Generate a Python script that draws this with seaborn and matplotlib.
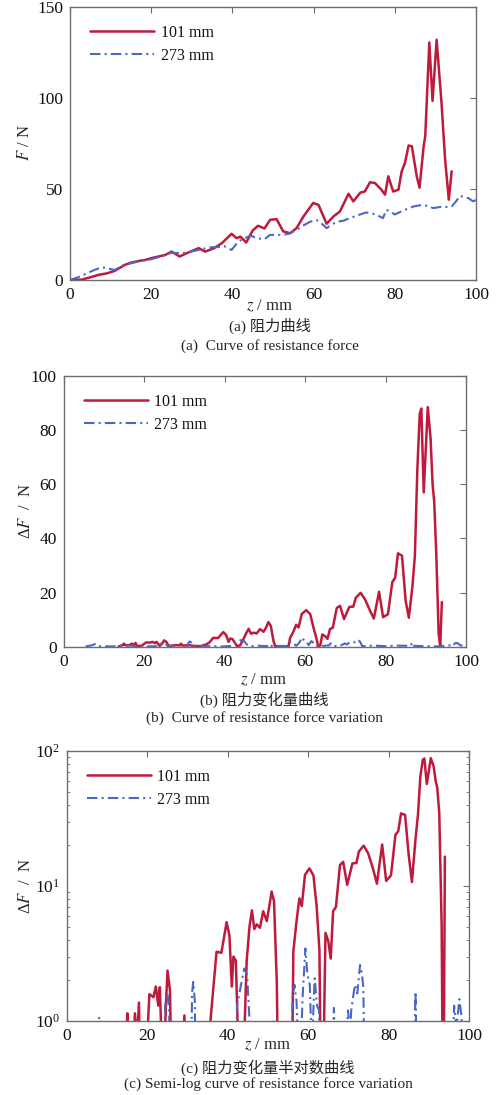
import numpy as np
import pandas as pd
import matplotlib
matplotlib.use("Agg")
import matplotlib.pyplot as plt
import seaborn as sns
from matplotlib.ticker import LogLocator, NullFormatter, FixedLocator

# ---------------- data ----------------
# (a) resistance force F (N) vs z (mm)
z_a_101 = [0, 2.9, 5, 7, 9, 11, 13.5, 15, 17, 18.5, 20, 22, 23.5, 25, 27, 29, 31.7, 33.3, 35.5,
           37.4, 39.8, 41, 42, 43.4, 45, 46.3, 47.9, 49.3, 50.9, 52.5, 54.2, 55.8, 57.5, 59.9,
           61.2, 63.2, 64.9, 66.5, 68.6, 69.8, 71.5, 72.6, 73.9, 75.1, 76.7, 77.6, 78.4, 79.6,
           80.9, 81.7, 82.5, 83.4, 84.2, 85.4, 86.1, 87.1, 87.5, 88.5, 89.3, 90.3, 91.5, 92.4,
           93.3, 94]
F_a_101 = [0, 0.2, 1.5, 2.8, 3.6, 5, 8.3, 9.5, 10.5, 11, 12, 13, 13.8, 15.6, 12.9, 15, 17.5, 15.6,
           17.5, 20.2, 25.4, 23, 23.8, 20.6, 27.2, 29.8, 28.3, 33.1, 33.4, 26.7, 25.7, 28.5, 34.9,
           42.3, 41.3, 30.9, 34.9, 37.7, 47.4, 43.2, 48, 48.6, 53.7, 53.3, 49.6, 46.9, 57, 48.6,
           49.6, 59.7, 64.3, 73.9, 73.5, 57, 50.7, 73.5, 79, 130.5, 98.4, 132, 97.5, 66, 44.1, 59.7]
z_a_273 = [0, 2, 4, 6, 7.8, 9, 11, 13, 15, 17.5, 20, 22.5, 25, 27.5, 29.5, 31.7, 33.5, 35, 37, 38,
           39.8, 41.4, 43, 44.6, 46, 47.9, 49.3, 50.4, 52.5, 54, 55.8, 57.5, 59.1, 60.7, 62, 63.2,
           64.5, 65.7, 67.2, 68.8, 70.8, 72.9, 74.5, 76.2, 77.1, 77.9, 79, 80, 82.1, 84.6, 86,
           87.1, 88.3, 89.5, 90.8, 92, 93, 94, 95, 96.1, 97, 98.1, 99.3, 100]
F_a_273 = [0, 1.5, 3.5, 5.5, 7, 6.5, 5.5, 8, 9.2, 10.5, 11.4, 13, 15, 14.7, 15.5, 16.5, 17.5, 18,
           18.2, 18.6, 16.5, 21, 23, 24.3, 23, 22.4, 24.8, 24.8, 24.8, 25.5, 27.6, 30, 32, 33, 31,
           28.5, 30.5, 32, 32.5, 33.9, 35.5, 37.1, 36.5, 35, 34, 38.6, 37.5, 36, 38.2, 40.4, 41,
           41.3, 40.5, 39.5, 40, 40.4, 40, 40.4, 43, 46.3, 45.5, 45, 43.2, 44]

# (b),(c) resistance force variation dF (N) vs z (mm)
z_d_101 = [13.7, 14.7, 15.0, 15.4, 16.5, 16.9, 17.4, 17.9, 18.3, 19.5, 20.5, 21.5, 22.1, 22.7,
           23.1, 23.9, 24.6, 25.0, 25.6, 26.1, 27.5, 28.8, 29.2, 29.6, 31.0, 32.3, 34.0, 35.4,
           36.2, 37.2, 38.4, 39.7, 40.4, 41.0, 41.4, 42.0, 43.1, 43.9, 44.7, 45.4, 46.0, 46.6,
           47.2, 48.0, 48.8, 49.7, 50.3, 50.9, 51.5, 52.2, 52.6, 53.5, 55.9, 56.3, 57.1, 57.8,
           58.4, 59.2, 60.3, 61.3, 62.1, 62.8, 63.3, 63.8, 64.3, 65.0, 65.6, 66.2, 66.9, 67.9,
           68.7, 69.7, 71.0, 72.0, 72.6, 73.8, 74.9, 76.1, 77.1, 78.4, 79.4, 80.6, 81.7, 82.4,
           83.1, 84.1, 85.0, 85.8, 86.7, 87.3, 87.9, 88.5, 88.9, 89.5, 90.5, 91.2, 91.7, 92.1,
           92.6, 93.2, 93.6, 94.0]
dF_101 = [0.1, 0.6, 1.14, 0.5, 0.6, 1.14, 0.7, 1.37, 0.2, 0.4, 1.58, 1.5, 1.8, 1.3, 1.78, 0.3,
          1.3, 2.36, 1.7, 0.3, 0.5, 0.6, 1.1, 0.4, 0.6, 0.3, 0.2, 0.8, 1.5, 3.26, 3.2, 5.4, 4.3,
          1.8, 3.0, 2.8, 0.2, 0.5, 2.8, 5.0, 6.6, 4.8, 5.2, 4.9, 6.5, 5.5, 7.0, 9.1, 7.7, 1.9,
          0.2, 0.1, 0.2, 3.26, 5.5, 8.1, 7.1, 12.1, 13.5, 12.0, 7.1, 3.3, 0.1, 0.5, 4.5, 3.9, 2.9,
          6.5, 7.0, 14.3, 15.1, 10.2, 14.7, 14.8, 18.0, 19.9, 17.5, 13.5, 10.4, 20.3, 10.9, 12.0,
          23.9, 25.5, 34.5, 33.6, 17.0, 10.7, 22.4, 33.6, 65.0, 86.0, 88.0, 57.0, 88.5, 77.0,
          60.0, 53.6, 35.0, 5.0, 0.1, 16.5]
z_d_273 = [5.5, 7.0, 8.0, 8.6, 12, 16, 20, 23.8, 24.4, 25.0, 25.4, 25.9, 28, 30.8, 31.1, 31.4,
           31.8, 32.2, 36, 40, 41.8, 42.3, 43.2, 44.1, 44.8, 45.5, 46.2, 48, 50.5, 51.3, 51.8, 54,
           55.7, 56.1, 56.6, 57.1, 57.8, 58.6, 59.3, 59.8, 60.4, 60.9, 61.6, 62.2, 62.7, 63.1,
           64.5, 66.0, 66.4, 66.9, 68.5, 69.9, 70.4, 70.7, 71.6, 72.2, 72.9, 73.3, 73.7, 74.2, 77,
           80, 83, 86.2, 86.7, 87.1, 90, 93, 95.8, 96.3, 96.9, 97.6, 98.1, 98.6, 99.5, 100]
dF_273 = [0.1, 0.5, 1.07, 0.2, 0.1, 0.4, 0.1, 0.2, 1.3, 1.6, 1.2, 0.1, 0.3, 0.2, 1.6, 1.95, 1.4,
          0.1, 0.2, 0.1, 0.3, 1.3, 1.8, 2.45, 2.2, 0.9, 0.1, 0.4, 0.2, 1.02, 0.2, 0.3, 0.2, 1.5,
          1.85, 1.4, 0.3, 1.5, 3.45, 2.2, 1.85, 0.6, 2.07, 1.3, 1.2, 0.1, 0.3, 0.5, 1.25, 0.3,
          0.2, 1.2, 0.8, 1.2, 1.85, 1.6, 2.6, 2.3, 1.8, 0.2, 0.4, 0.2, 0.4, 0.3, 1.65, 0.3, 0.2,
          0.1, 0.4, 1.3, 0.9, 1.45, 1.1, 0.5, 0.3, 0.6]

labels = ["101 mm", "273 mm"]
x_ticks = [0, 20, 40, 60, 80, 100]
captions_cn = ["(a) 阻力曲线", "(b) 阻力变化量曲线", "(c) 阻力变化量半对数曲线"]
captions_en = ["(a)  Curve of resistance force",
               "(b)  Curve of resistance force variation",
               "(c) Semi-log curve of resistance force variation"]

# ---------------- style ----------------
sns.set_style("white")
plt.rcParams['font.family'] = ['Liberation Serif', 'Noto Sans CJK SC']
plt.rcParams['mathtext.fontset'] = 'stix'
plt.rcParams['axes.unicode_minus'] = False

RED = "#BE1A3C"
BLUE = "#4A68C2"
SPINE = "#6E6E6E"

W, H = 498, 1095
fig = plt.figure(figsize=(W / 100, H / 100), dpi=100)


def frac_box(l, t, r, b):
    return [l / W, 1 - b / H, (r - l) / W, (b - t) / H]


ax_a = fig.add_axes(frac_box(70, 7, 476, 280))
ax_b = fig.add_axes(frac_box(63.5, 376, 466, 646.7))
ax_c = fig.add_axes(frac_box(67, 751, 469, 1021))

df_a1 = pd.DataFrame({"z": z_a_101, "v": F_a_101})
df_a2 = pd.DataFrame({"z": z_a_273, "v": F_a_273})
df_d1 = pd.DataFrame({"z": z_d_101, "v": dF_101})
df_d2 = pd.DataFrame({"z": z_d_273, "v": dF_273})


def draw(ax, d1, d2):
    sns.lineplot(data=d1, x="z", y="v", ax=ax, color=RED, lw=1.8, label=labels[0],
                 estimator=None, sort=False)
    sns.lineplot(data=d2, x="z", y="v", ax=ax, color=BLUE, lw=1.5, linestyle=(0, (5, 2, 1, 2)),
                 label=labels[1], estimator=None, sort=False)


draw(ax_a, df_a1, df_a2)
draw(ax_b, df_d1, df_d2)
draw(ax_c, df_d1, df_d2)

ax_a.set_ylim(0, 150)
ax_a.set_yticks([0, 50, 100, 150])
ax_b.set_ylim(0, 100)
ax_b.set_yticks([0, 20, 40, 60, 80, 100])
ax_c.set_yscale("log")
ax_c.set_ylim(1, 100)
ax_c.yaxis.set_major_locator(LogLocator(base=10, numticks=5))
ax_c.yaxis.set_minor_locator(LogLocator(base=10, subs=np.arange(2, 10), numticks=20))
ax_c.yaxis.set_minor_formatter(NullFormatter())

for ax in (ax_a, ax_b, ax_c):
    ax.set_xlim(0, 100)
    ax.set_xticks(x_ticks)
    ax.set_xlabel("")
    ax.set_ylabel("")
    for s in ax.spines.values():
        s.set_visible(True)
        s.set_color(SPINE)
        s.set_linewidth(1.0)
    ax.tick_params(axis="both", which="major", direction="in", length=4, width=0.8,
                   color=SPINE, top=True, right=True, labelsize=12.5, pad=5,
                   labelcolor="#111111")
    ax.tick_params(axis="y", which="minor", direction="in", length=2.5, width=0.6,
                   color=SPINE, left=True, right=True)
    leg = ax.legend(loc="upper left", frameon=False, fontsize=11.5, handlelength=4.0,
                    handletextpad=0.4, labelspacing=0.45, borderpad=0, borderaxespad=0,
                    bbox_to_anchor=(0.05, 0.935))
    for t in leg.get_texts():
        t.set_color("#111111")

# y labels
fig.text(25 / W, 1 - 143 / H, "$F$ / N", rotation=90, ha="center", va="center", fontsize=12)
fig.text(26 / W, 1 - 511 / H, "Δ$F$  /  N", rotation=90, ha="center", va="center", fontsize=12)
fig.text(26 / W, 1 - 886 / H, "Δ$F$  /  N", rotation=90, ha="center", va="center", fontsize=12)

# x labels and captions
xl_y = [306, 680, 1045]
cn_y = [326, 700, 1068]
en_y = [346, 718, 1084]
x_c = [270, 264, 268]
for i in range(3):
    fig.text(x_c[i] / W, 1 - xl_y[i] / H, "$z$ / mm", ha="center", va="center", fontsize=12)
    fig.text(x_c[i] / W, 1 - cn_y[i] / H, captions_cn[i], ha="center", va="center", fontsize=11)
    fig.text(x_c[i] / W, 1 - en_y[i] / H, captions_en[i], ha="center", va="center", fontsize=11)

fig.savefig("out.png", dpi=100, facecolor="white")
